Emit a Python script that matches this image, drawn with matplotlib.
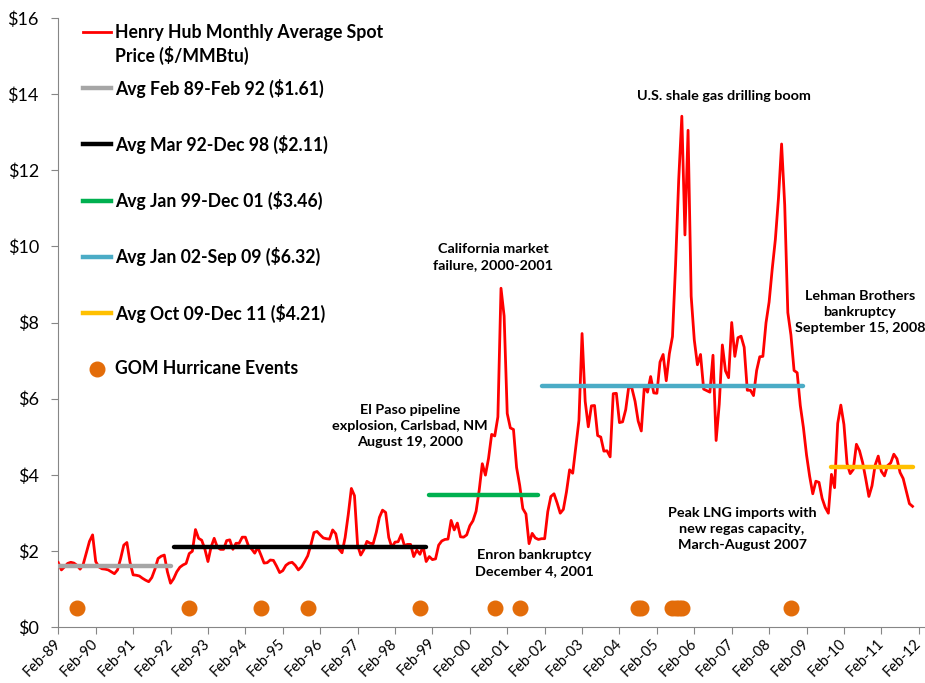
import matplotlib
matplotlib.use("Agg")
import matplotlib.pyplot as plt
import matplotlib.transforms as mtransforms
from matplotlib.lines import Line2D
import numpy as np

plt.rcParams['font.family'] = ['Lato', 'DejaVu Sans']

# Henry Hub monthly average spot price ($/MMBtu), Feb-89 .. Dec-11
price = [
    # 1989 (Feb-Dec)
    1.69, 1.50, 1.58, 1.67, 1.70, 1.68, 1.62, 1.52, 1.65, 1.95, 2.25,
    # 1990
    2.42, 1.72, 1.58, 1.53, 1.52, 1.50, 1.45, 1.40, 1.50, 1.80, 2.15, 2.22,
    # 1991
    1.70, 1.37, 1.36, 1.34, 1.28, 1.23, 1.19, 1.30, 1.52, 1.80, 1.86, 1.89,
    # 1992
    1.45, 1.15, 1.27, 1.45, 1.57, 1.63, 1.67, 1.93, 1.99, 2.56, 2.33, 2.28,
    # 1993
    2.05, 1.72, 2.10, 2.33, 2.10, 2.04, 2.04, 2.27, 2.29, 2.04, 2.20, 2.20,
    # 1994
    2.36, 2.36, 2.13, 2.05, 1.94, 2.09, 1.89, 1.68, 1.69, 1.76, 1.75, 1.60,
    # 1995
    1.43, 1.48, 1.62, 1.68, 1.70, 1.62, 1.50, 1.58, 1.72, 1.87, 2.15, 2.48,
    # 1996
    2.51, 2.42, 2.34, 2.32, 2.31, 2.55, 2.45, 2.05, 1.95, 2.35, 2.95, 3.64,
    # 1997
    3.45, 2.15, 1.89, 2.03, 2.25, 2.20, 2.19, 2.49, 2.88, 3.07, 3.01, 2.35,
    # 1998
    2.09, 2.23, 2.24, 2.43, 2.14, 2.17, 2.17, 1.85, 2.02, 1.91, 2.12, 1.72,
    # 1999
    1.85, 1.77, 1.79, 2.15, 2.26, 2.30, 2.31, 2.80, 2.55, 2.73, 2.37, 2.36,
    # 2000
    2.42, 2.66, 2.79, 3.04, 3.59, 4.29, 3.99, 4.43, 5.06, 5.02, 5.52, 8.90,
    # 2001
    8.17, 5.61, 5.23, 5.19, 4.19, 3.72, 3.11, 2.97, 2.19, 2.46, 2.34, 2.30,
    # 2002
    2.32, 2.32, 3.03, 3.43, 3.50, 3.26, 2.99, 3.09, 3.55, 4.13, 4.04, 4.74,
    # 2003
    5.43, 7.71, 5.93, 5.26, 5.81, 5.82, 5.03, 4.99, 4.62, 4.63, 4.47, 6.13,
    # 2004
    6.14, 5.37, 5.39, 5.71, 6.33, 6.27, 5.93, 5.41, 5.15, 6.35, 6.17, 6.58,
    # 2005
    6.15, 6.14, 6.96, 7.16, 6.47, 7.18, 7.63, 9.53, 11.75, 13.42, 10.30, 13.05,
    # 2006
    8.69, 7.54, 6.89, 7.16, 6.25, 6.21, 6.17, 7.14, 4.90, 5.85, 7.41, 6.73,
    # 2007
    6.55, 8.00, 7.11, 7.60, 7.64, 7.35, 6.22, 6.22, 6.08, 6.74, 7.10, 7.11,
    # 2008
    7.99, 8.54, 9.41, 10.18, 11.27, 12.69, 11.09, 8.26, 7.67, 6.74, 6.68, 5.82,
    # 2009
    5.24, 4.52, 3.96, 3.50, 3.83, 3.80, 3.38, 3.14, 2.99, 4.01, 3.66, 5.35,
    # 2010
    5.83, 5.32, 4.29, 4.03, 4.14, 4.80, 4.63, 4.32, 3.89, 3.43, 3.71, 4.25,
    # 2011
    4.49, 4.09, 3.97, 4.24, 4.31, 4.54, 4.42, 4.06, 3.90, 3.57, 3.24, 3.17,
]
months = np.arange(len(price))  # 0 = Feb-89

# period averages: start month index, end month index, value
avg_labels = ["Avg Feb 89-Feb 92 ($1.61)", "Avg Mar 92-Dec 98 ($2.11)",
              "Avg Jan 99-Dec 01 ($3.46)", "Avg Jan 02-Sep 09 ($6.32)",
              "Avg Oct 09-Dec 11 ($4.21)"]
avg_start = [0, 37, 119, 155, 248]
avg_end = [36, 118, 154, 239, 274]
avg_value = [1.61, 2.11, 3.46, 6.32, 4.21]
avg_colors = ["#A6A6A6", "#000000", "#00B050", "#4BACC6", "#FFC000"]

# Gulf of Mexico hurricane events (month index)
hurricane_months = [6, 42, 65, 80, 116, 140, 148, 186, 187, 197, 198, 199, 200, 235]
hurricane_level = 0.5

tick_pos = list(range(0, 277, 12))
tick_labels = [f"Feb-{y % 100:02d}" for y in range(1989, 2013)]

W, H = 925, 683
fig = plt.figure(figsize=(W / 100, H / 100), dpi=100)
ax = fig.add_axes([58.3 / W, 1 - 627 / H, (925 - 58.3) / W, (627 - 18) / H])

ax.plot(months, price, color="#FF0000", linewidth=2.0, zorder=3)
for s, e, v, c in zip(avg_start, avg_end, avg_value, avg_colors):
    ax.plot([s, e], [v, v], color=c, linewidth=3.2, solid_capstyle="round", zorder=4)
ax.plot(hurricane_months, [hurricane_level] * len(hurricane_months), "o",
        color="#E36C09", markersize=10.5, zorder=5)

ax.set_xlim(0, 278)
ax.set_ylim(0, 16)
ax.set_yticks(range(0, 17, 2))
ax.set_yticklabels([f"${v}" for v in range(0, 17, 2)], fontsize=13)
ax.set_xticks(tick_pos)
ax.set_xticklabels(tick_labels, rotation=45, ha="right", va="center",
                   rotation_mode="anchor", fontsize=10.5)
shift = mtransforms.ScaledTranslation(3 / 100, 0, fig.dpi_scale_trans)
for lab in ax.get_xticklabels():
    lab.set_transform(lab.get_transform() + shift)
for side in ["top", "right"]:
    ax.spines[side].set_visible(False)
for side in ["left", "bottom"]:
    ax.spines[side].set_color("#868686")
ax.tick_params(axis="both", color="#868686", length=5, direction="out")
ax.tick_params(axis="y", pad=9)
ax.tick_params(axis="x", pad=5)

# annotations
notes = [
    ("U.S. shale gas drilling boom", 724, 96),
    ("California market\nfailure, 2000-2001", 493, 257),
    ("Lehman Brothers\nbankruptcy\nSeptember 15, 2008", 860, 312),
    ("El Paso pipeline\nexplosion, Carlsbad, NM\nAugust 19, 2000", 410, 426),
    ("Enron bankruptcy\nDecember 4, 2001", 534, 563),
    ("Peak LNG imports with\nnew regas capacity,\nMarch-August 2007", 742, 529),
]
for txt, px, py in notes:
    fig.text(px / W, 1 - py / H, txt, ha="center", va="center", fontsize=10.4,
             fontweight="bold", linespacing=1.4)

# legend drawn by hand to keep Excel spacing
def leg_line(py, color, lw):
    fig.add_artist(Line2D([83 / W, 111 / W], [1 - py / H, 1 - py / H], color=color,
                          linewidth=lw, transform=fig.transFigure))

leg_line(32, "#FF0000", 2.0)
fig.text(115 / W, 1 - 44.5 / H, "Henry Hub Monthly Average Spot\nPrice ($/MMBtu)",
         ha="left", va="center", fontsize=12.7, fontweight="bold", linespacing=1.35)
for k, (lab, c) in enumerate(zip(avg_labels, avg_colors)):
    py = 88 + 56.3 * k
    leg_line(py, c, 3.2)
    fig.text(115 / W, 1 - py / H, lab, ha="left", va="center", fontsize=12.7, fontweight="bold")
fig.add_artist(Line2D([97 / W], [1 - 368.5 / H], marker="o", color="#E36C09",
                      markersize=10.5, linestyle="none", transform=fig.transFigure))
fig.text(115 / W, 1 - 368.5 / H, "GOM Hurricane Events", ha="left", va="center",
         fontsize=12.7, fontweight="bold")

fig.savefig("out.png", dpi=100)
